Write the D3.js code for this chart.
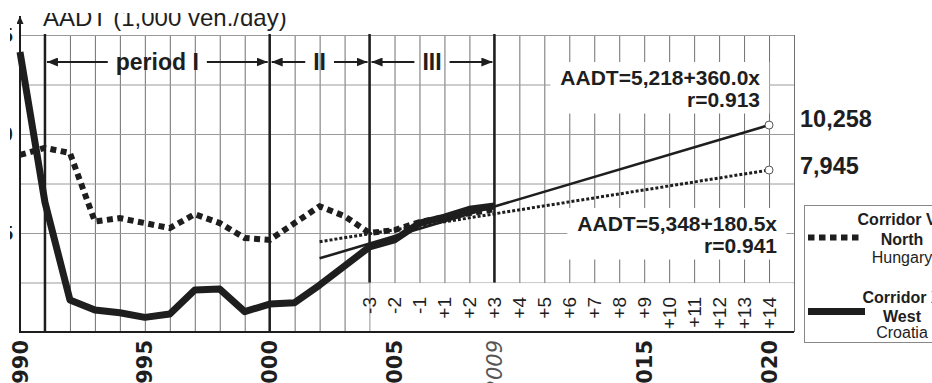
<!DOCTYPE html>
<html>
<head>
<meta charset="utf-8">
<script src="https://cdn.jsdelivr.net/npm/d3@7"></script>
<style>
  body { margin: 0; background: #fff; }
  svg { display: block; font-family: "Liberation Sans", Arial, sans-serif; }
</style>
</head>
<body>
<div id="graf"></div>
<script>
// Data (AADT in 1,000 veh./day)
const years = [1990, 1991, 1992, 1993, 1994, 1995, 1996, 1997, 1998, 1999,
  2000, 2001, 2002, 2003, 2004, 2005, 2006, 2007, 2008, 2009]
const northHungary = [8.94, 9.3, 9.04, 5.58, 5.75, 5.5, 5.25, 5.95, 5.5, 4.75,
  4.65, 5.5, 6.35, 5.85, 5.0, 5.15, 5.55, 5.8, 6.0, 6.2]
const westCroatia = [14.14, 6.55, 1.62, 1.11, 0.97, 0.74, 0.91, 2.12, 2.17, 1.03,
  1.41, 1.48, 2.37, 3.33, 4.3, 4.65, 5.5, 5.8, 6.2, 6.36]

// Trend lines (start / end)
const trendYears = [2002, 2020]
const trendWest = [3.72, 10.45]
const trendNorth = [4.56, 8.18]
const trendEndLabels = ["10,258", "7,945"]
const equationWest = ["AADT=5,218+360.0x", "r=0.913"]
const equationNorth = ["AADT=5,348+180.5x", "r=0.941"]

// Periods
const periodYears = [1991, 2000, 2004, 2009]
const periodNames = ["period I", "II", "III"]

// Tick labels
const gridYears = [1990, 1991, 1992, 1993, 1994, 1995, 1996, 1997, 1998, 1999, 2000,
  2001, 2002, 2003, 2004, 2005, 2006, 2007, 2008, 2009, 2010, 2011, 2012, 2013,
  2014, 2015, 2016, 2017, 2018, 2019, 2020, 2021]
const yearLabels = [1990, 1995, 2000, 2005, 2015, 2020]
const baseYear = 2009
const offsetYears = [2004, 2005, 2006, 2007, 2008, 2009, 2010, 2011, 2012, 2013,
  2014, 2015, 2016, 2017, 2018, 2019, 2020]
const offsetLabels = ["-3", "-2", "-1", "+1", "+2", "+3", "+4", "+5", "+6", "+7",
  "+8", "+9", "+10", "+11", "+12", "+13", "+14"]
const yTicks = [0, 2.5, 5, 7.5, 10, 12.5, 15]
const yLabels = [5, 10, 15]
const legendNorth = ["Corridor Vb", "North", "Hungary"]
const legendWest = ["Corridor X", "West", "Croatia"]

// Dimensions
const anchoTotal = 932
const altoTotal = 383
const ink = "#1e1e1e"

const svg = d3.select("#graf")
  .append("svg")
  .attr("width", anchoTotal)
  .attr("height", altoTotal)

const defs = svg.append("defs")
defs.append("clipPath").attr("id", "clipTitle")
  .append("rect").attr("x", 0).attr("y", 13).attr("width", anchoTotal).attr("height", 40)
defs.append("clipPath").attr("id", "clipLeft")
  .append("rect").attr("x", 10).attr("y", 0).attr("width", 40).attr("height", altoTotal)
defs.append("marker")
  .attr("id", "arrow")
  .attr("markerUnits", "userSpaceOnUse")
  .attr("markerWidth", 11).attr("markerHeight", 9)
  .attr("refX", 11).attr("refY", 4.5)
  .attr("orient", "auto")
  .append("path").attr("d", "M0,0L11,4.5L0,9Z").attr("fill", ink)
defs.append("marker")
  .attr("id", "axisArrow")
  .attr("markerUnits", "userSpaceOnUse")
  .attr("markerWidth", 8).attr("markerHeight", 7)
  .attr("refX", 8).attr("refY", 3.5)
  .attr("orient", "auto")
  .append("path").attr("d", "M0,0L8,3.5L0,7Z").attr("fill", ink)

// Scales
const x = d3.scaleLinear().domain([1990, 2021]).range([20, 794])
const y = d3.scaleLinear().domain([0, 15]).range([332, 35])

// Grid
svg.append("g")
  .attr("transform", `translate(0, ${y(0)})`)
  .call(d3.axisBottom(x).tickValues(gridYears).tickSize(-(y(0) - y(15))).tickFormat(""))
  .call((g) => g.select(".domain").remove())
  .call((g) => g.selectAll("line").attr("stroke", "#707070").attr("stroke-width", 1))

svg.append("g")
  .attr("transform", `translate(${x(1990)}, 0)`)
  .call(d3.axisLeft(y).tickValues(yTicks).tickSize(-(x(2021) - x(1990))).tickFormat(""))
  .call((g) => g.select(".domain").remove())
  .call((g) => g.selectAll("line").attr("stroke", "#9a9a9a").attr("stroke-width", 1))

// White boxes layer
const boxes = svg.append("g")
boxes.append("rect")
  .attr("x", x(offsetYears[0]) + 1)
  .attr("y", y(2.5) + 0.6)
  .attr("width", x(2021) - x(offsetYears[0]) - 1.5)
  .attr("height", y(0) - y(2.5) - 1.5)
  .attr("fill", "#fff")

// Y tick labels (cut at left edge)
svg.append("g")
  .attr("clip-path", "url(#clipLeft)")
  .selectAll("text")
  .data(yLabels)
  .join("text")
  .attr("x", 13)
  .attr("y", (d) => y(d))
  .attr("dy", "0.36em")
  .attr("text-anchor", "end")
  .attr("font-size", 20)
  .attr("font-weight", "bold")
  .attr("fill", ink)
  .text((d) => d)

// Period lines
svg.append("g")
  .selectAll("line")
  .data(periodYears)
  .join("line")
  .attr("x1", (d) => x(d))
  .attr("x2", (d) => x(d))
  .attr("y1", y(15) - 1)
  .attr("y2", (d) => (d >= offsetYears[0] ? y(2.5) : y(0)))
  .attr("stroke", ink)
  .attr("stroke-width", 2.5)

// Period arrows
const arrowY = 62
periodNames.forEach((name, i) => {
  const x0 = x(periodYears[i])
  const x1 = x(periodYears[i + 1])
  const mid = (x0 + x1) / 2
  const t = svg.append("text")
    .attr("x", mid)
    .attr("y", arrowY + 8)
    .attr("text-anchor", "middle")
    .attr("font-size", 23)
    .attr("font-weight", "bold")
    .attr("fill", ink)
    .text(name)
  const w = t.node().getComputedTextLength()
  svg.append("line")
    .attr("x1", mid - w / 2 - 8).attr("x2", x0 + 2)
    .attr("y1", arrowY).attr("y2", arrowY)
    .attr("stroke", ink).attr("stroke-width", 2)
    .attr("marker-end", "url(#arrow)")
  svg.append("line")
    .attr("x1", mid + w / 2 + 8).attr("x2", x1 - 2)
    .attr("y1", arrowY).attr("y2", arrowY)
    .attr("stroke", ink).attr("stroke-width", 2)
    .attr("marker-end", "url(#arrow)")
})

// Axes
svg.append("line")
  .attr("x1", x(1990)).attr("x2", x(2021))
  .attr("y1", y(0)).attr("y2", y(0))
  .attr("stroke", ink).attr("stroke-width", 2)
svg.append("line")
  .attr("x1", x(1990)).attr("x2", x(1990))
  .attr("y1", y(0) + 1).attr("y2", 16)
  .attr("stroke", ink).attr("stroke-width", 2)
  .attr("marker-end", "url(#axisArrow)")

svg.append("text")
  .attr("clip-path", "url(#clipTitle)")
  .attr("x", 43)
  .attr("y", 26)
  .attr("font-size", 24)
  .attr("fill", ink)
  .text("AADT (1,000 veh./day)")

// Series
const line = d3.line()
  .x((d, i) => x(years[i]))
  .y((d) => y(d))

svg.append("path")
  .datum(northHungary)
  .attr("d", line)
  .attr("fill", "none")
  .attr("stroke", ink)
  .attr("stroke-width", 6)
  .attr("stroke-dasharray", "6,4.5")

svg.append("path")
  .datum(westCroatia)
  .attr("d", line)
  .attr("fill", "none")
  .attr("stroke", ink)
  .attr("stroke-width", 7)
  .attr("stroke-linejoin", "round")

// Trends
const trendLine = d3.line()
  .x((d, i) => x(trendYears[i]))
  .y((d) => y(d))

svg.append("path")
  .datum(trendWest)
  .attr("d", trendLine)
  .attr("fill", "none")
  .attr("stroke", ink)
  .attr("stroke-width", 2.6)

svg.append("path")
  .datum(trendNorth)
  .attr("d", trendLine)
  .attr("fill", "none")
  .attr("stroke", ink)
  .attr("stroke-width", 3)
  .attr("stroke-dasharray", "3,2")

const ends = [trendWest[1], trendNorth[1]]
svg.append("g")
  .selectAll("circle")
  .data(ends)
  .join("circle")
  .attr("cx", x(trendYears[1]))
  .attr("cy", (d) => y(d))
  .attr("r", 4)
  .attr("fill", "#fff")
  .attr("stroke", "#555")
  .attr("stroke-width", 1)

svg.append("g")
  .selectAll("text")
  .data(ends)
  .join("text")
  .attr("x", 800)
  .attr("y", (d, i) => y(d) + (i === 0 ? 2 : 4))
  .attr("font-size", 23.5)
  .attr("font-weight", "bold")
  .attr("fill", ink)
  .text((d, i) => trendEndLabels[i])

// Equations with white box behind
const equation = (lines, xr, yb) => {
  const t = svg.append("g")
  lines.forEach((s, i) => {
    t.append("text")
      .attr("x", xr)
      .attr("y", yb + i * 21.5)
      .attr("text-anchor", "end")
      .attr("font-size", 21)
      .attr("font-weight", "bold")
      .attr("fill", ink)
      .text(s)
  })
  const b = t.node().getBBox()
  boxes.append("rect")
    .attr("x", b.x - 10)
    .attr("y", b.y - 4)
    .attr("width", b.width + 19)
    .attr("height", b.height + 7)
    .attr("fill", "#fff")
}
equation(equationWest, 760, 85)
equation(equationNorth, 777, 231)

// X labels
svg.append("g")
  .selectAll("text")
  .data(yearLabels)
  .join("text")
  .attr("transform", (d) => `translate(${x(d)}, 340) rotate(-90)`)
  .attr("dy", "0.36em")
  .attr("text-anchor", "end")
  .attr("font-family", "DejaVu Sans")
  .attr("font-size", 21)
  .attr("font-weight", "bold")
  .attr("fill", ink)
  .text((d) => d)

svg.append("text")
  .attr("transform", `translate(${x(baseYear)}, 340) rotate(-90)`)
  .attr("dy", "0.36em")
  .attr("text-anchor", "end")
  .attr("font-family", "DejaVu Sans")
  .attr("font-size", 21)
  .attr("font-style", "italic")
  .attr("fill", "#555")
  .text(baseYear)

svg.append("g")
  .selectAll("text")
  .data(offsetLabels)
  .join("text")
  .attr("transform", (d, i) => `translate(${x(offsetYears[i])}, 297) rotate(-90)`)
  .attr("dy", "0.36em")
  .attr("text-anchor", "end")
  .attr("font-size", 19)
  .attr("fill", ink)
  .text((d) => d)

// Legend
const legend = svg.append("g")
legend.append("rect")
  .attr("x", 804.5).attr("y", 205.5)
  .attr("width", 140).attr("height", 137)
  .attr("fill", "#fff")
  .attr("stroke", "#888")

legend.append("line")
  .attr("x1", 808).attr("x2", 860)
  .attr("y1", 237.5).attr("y2", 237.5)
  .attr("stroke", ink).attr("stroke-width", 6)
  .attr("stroke-dasharray", "6.5,4.5")
legend.append("line")
  .attr("x1", 808).attr("x2", 865)
  .attr("y1", 311.5).attr("y2", 311.5)
  .attr("stroke", ink).attr("stroke-width", 7)

const legendText = (lines, baselines) => {
  lines.forEach((s, i) => {
    legend.append("text")
      .attr("x", 902)
      .attr("y", baselines[i])
      .attr("text-anchor", "middle")
      .attr("font-size", 16)
      .attr("font-weight", i < 2 ? "bold" : "normal")
      .attr("fill", ink)
      .text(s)
  })
}
legendText(legendNorth, [225, 245, 263])
legendText(legendWest, [303, 322, 338])
</script>
</body>
</html>
